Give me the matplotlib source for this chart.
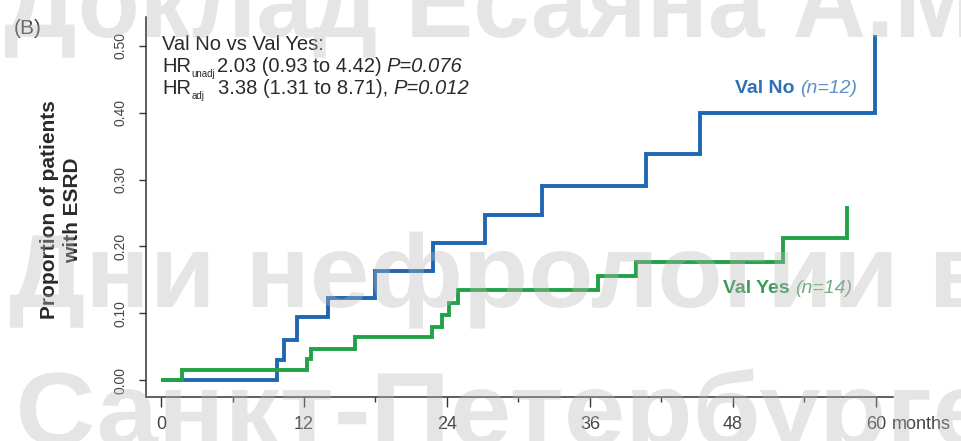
import matplotlib
matplotlib.use("Agg")
import matplotlib.pyplot as plt
from matplotlib.textpath import TextPath
from matplotlib.patches import PathPatch
from matplotlib.font_manager import FontProperties
from matplotlib.transforms import Affine2D

plt.rcParams["font.family"] = ["Liberation Sans", "DejaVu Sans"]

# Cumulative incidence of ESRD (step functions, months of follow-up)
months_val_no = [0, 9.7, 10.3, 11.4, 14.0, 17.95, 22.8, 27.2, 32.0, 40.7, 45.2, 59.9]
esrd_val_no = [0, 0.030, 0.060, 0.094, 0.123, 0.163, 0.205, 0.247, 0.291, 0.339, 0.399, 0.517]

months_val_yes = [0, 1.8, 12.25, 12.6, 16.3, 22.7, 23.6, 24.2, 24.9, 36.7, 39.9, 52.2, 57.6]
esrd_val_yes = [0, 0.015, 0.031, 0.047, 0.065, 0.080, 0.098, 0.115, 0.135, 0.155, 0.177, 0.213, 0.260]

x_major = [0, 12, 24, 36, 48, 60]
x_minor = [6, 18, 30, 42, 54]
y_ticks = [0.0, 0.1, 0.2, 0.3, 0.4, 0.5]
y_ticklabels = ["0.00", "0.10", "0.20", "0.30", "0.40", "0.50"]

BLUE = "#1f67b1"
GREEN = "#22a246"
INK = "#2a2a2a"

W, H = 961, 441
fig = plt.figure(figsize=(W / 100, H / 100), dpi=100)
ax = fig.add_axes([146 / W, 1 - 397 / H, 747 / W, 380 / H])

ax.step(months_val_no, esrd_val_no, where="post", color=BLUE, lw=2.8,
        solid_joinstyle="miter", solid_capstyle="butt", zorder=3)
ax.step(months_val_yes, esrd_val_yes, where="post", color=GREEN, lw=2.8,
        solid_joinstyle="miter", solid_capstyle="butt", zorder=4)

ax.set_xlim(-1.26, 61.43)
ax.set_ylim(-0.0254, 0.5434)
for side in ("top", "right"):
    ax.spines[side].set_visible(False)
for side in ("left", "bottom"):
    ax.spines[side].set_linewidth(1.1)
    ax.spines[side].set_color("#333333")

ax.set_xticks(x_major)
ax.set_xticklabels([str(v) for v in x_major])
ax.set_xticks(x_minor, minor=True)
ax.tick_params(axis="x", which="major", length=7, width=1, pad=7,
               labelsize=13, color="#333333", labelcolor="#444444")
ax.tick_params(axis="x", which="minor", length=3.5, width=1, color="#333333")
ax.set_yticks(y_ticks)
ax.set_yticklabels(y_ticklabels, rotation=90, va="center")
ax.tick_params(axis="y", length=5, width=1, pad=8, labelsize=10,
               color="#333333", labelcolor="#444444")

ax.annotate("months", xy=(60, 0), xycoords=("data", "axes fraction"),
            xytext=(11.5, -14), textcoords="offset points",
            ha="left", va="top", fontsize=13, color="#444444")

# Hazard ratio summary
fs = 14.5
sub_fs = 7


def hr_label(y, sub):
    hr = ax.text(0.08, y, "HR", fontsize=fs, va="baseline", color=INK)
    return ax.annotate(sub, xy=(1, y), xycoords=(hr, "data"), xytext=(0.5, -3.5),
                       textcoords="offset points", va="baseline",
                       fontsize=sub_fs, color=INK)


ax.text(0.08, 0.494, "Val No vs Val Yes:", fontsize=fs, va="baseline", color=INK)

sub1 = hr_label(0.461, "unadj")
v1 = ax.annotate("2.03 (0.93 to 4.42)", xy=(1, 0.461), xycoords=(sub1, "data"),
                 xytext=(1, 0), textcoords="offset points", va="baseline",
                 fontsize=fs, color=INK)
ax.annotate("P=0.076", xy=(1, 0.461), xycoords=(v1, "data"),
            xytext=(4, 0), textcoords="offset points", va="baseline",
            fontsize=fs, style="italic", color=INK)

hr_label(0.428, "adj")
v2 = ax.annotate("3.38 (1.31 to 8.71),", xy=(0, 0.428), xycoords=(v1, "data"),
                 xytext=(1, 0), textcoords="offset points", va="baseline",
                 fontsize=fs, color=INK)
ax.annotate("P=0.012", xy=(1, 0.428), xycoords=(v2, "data"),
            xytext=(4, 0), textcoords="offset points", va="baseline",
            fontsize=fs, style="italic", color=INK)

# Group labels
lab_no = ax.text(48.17, 0.430, "Val No", fontsize=14, fontweight="bold",
                 va="baseline", color="#2f70b6")
ax.annotate("(n=12)", xy=(1, 0.430), xycoords=(lab_no, "data"),
            xytext=(4, 0), textcoords="offset points", va="baseline",
            fontsize=14, style="italic", color="#5d8fcb")
lab_yes = ax.text(47.16, 0.131, "Val Yes", fontsize=14, fontweight="bold",
                  va="baseline", color="#3b9a55")
ax.annotate("(n=14)", xy=(1, 0.131), xycoords=(lab_yes, "data"),
            xytext=(4, 0), textcoords="offset points", va="baseline",
            fontsize=14, style="italic", color="#6faa7f")

fig.text(61 / W, 1 - 210 / H, "Proportion of patients\nwith ESRD", rotation=90,
         ha="center", va="center", multialignment="center", fontsize=15,
         fontweight="bold", linespacing=1.3, color=INK)
fig.text(14 / W, 1 - 28 / H, "(B)", fontsize=15, va="center", ha="left", color="#444444")

# Semi-transparent overlay text
wm_font = FontProperties(family="Liberation Sans", weight="bold")


def overlay_line(text, x0, x1, baseline, em):
    tp = TextPath((0, 0), text, size=em, prop=wm_font)
    ext = tp.get_extents()
    sx = (x1 - x0) / ext.width
    tr = Affine2D().translate(-ext.x0, 0).scale(sx, 1).translate(x0, H - baseline)
    patch = PathPatch(tp, transform=tr, facecolor="#b8b8b8", edgecolor="none",
                      alpha=0.36, zorder=20)
    fig.add_artist(patch)


overlay_line("Доклад Есаяна А.М.", 5, 1000, 37, 104)
overlay_line("Дни нефрологии в", 10, 990, 307, 104)
overlay_line("Санкт-Петербурге", 20, 990, 445, 104)

fig.savefig("out.png", dpi=100)
